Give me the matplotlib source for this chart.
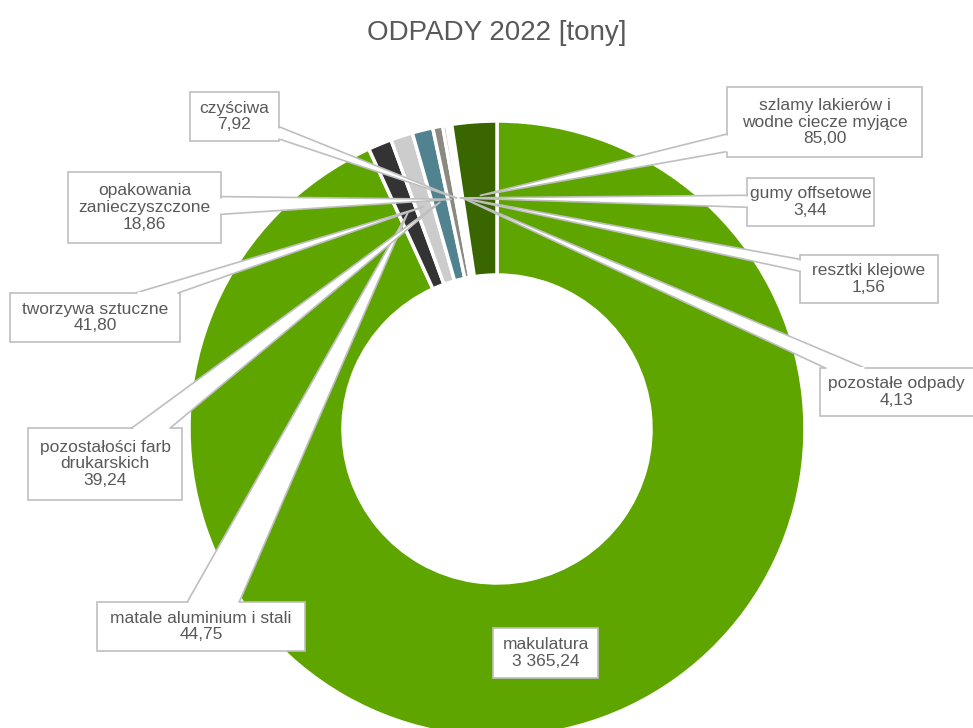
import numpy as np
import matplotlib.pyplot as plt
from matplotlib.patches import Rectangle, Polygon

plt.rcParams['font.family'] = ['Liberation Sans', 'DejaVu Sans']

# data (clockwise from 12 o'clock)
categories = [
    "makulatura",
    "matale aluminium i stali",
    "tworzywa sztuczne",
    "pozostałości farb\ndrukarskich",
    "opakowania\nzanieczyszczone",
    "czyściwa",
    "gumy offsetowe",
    "resztki klejowe",
    "pozostałe odpady",
    "szlamy lakierów i\nwodne ciecze myjące",
]
values = [3365.24, 44.75, 41.80, 39.24, 18.86, 7.92, 3.44, 1.56, 4.13, 85.00]
colors = ["#5fa500", "#333333", "#cccccc", "#50838f", "#8a8a80",
          "#c8a8a8", "#9a9a9a", "#dddddd", "#7f7f7f", "#3a6600"]

# label boxes in pixels (x0, y0, x1, y1), y measured from the top
boxes = [
    (493, 628, 598, 678),
    (97, 602, 305, 651),
    (10, 293, 180, 342),
    (28, 428, 182, 500),
    (68, 172, 221, 243),
    (190, 92, 279, 141),
    (747, 178, 874, 226),
    (800, 255, 938, 303),
    (820, 368, 978, 416),
    (727, 87, 922, 157),
]

W, H = 973, 728
CX, CY, R = 497, 429, 308
TEXT = "#595959"
LINE = "#bfbfbf"


def fmt_pl(v):
    return f"{v:,.2f}".replace(",", " ").replace(".", ",")


def callout_base(box, tip):
    x0, y0, x1, y1 = box
    c = np.array([(x0 + x1) / 2, (y0 + y1) / 2])
    d = np.asarray(tip) - c
    tx = ((x1 if d[0] > 0 else x0) - c[0]) / d[0] if d[0] != 0 else np.inf
    ty = ((y1 if d[1] > 0 else y0) - c[1]) / d[1] if d[1] != 0 else np.inf
    p = c + min(tx, ty) * d
    if tx < ty:
        # left / right side
        half = 0.125 * (y1 - y0)
        yc = np.clip(p[1], y0 + half + 2, y1 - half - 2)
        return np.array([p[0], yc - half]), np.array([p[0], yc + half])
    half = 0.125 * (x1 - x0)
    xc = np.clip(p[0], x0 + half + 2, x1 - half - 2)
    return np.array([xc - half, p[1]]), np.array([xc + half, p[1]])


fig = plt.figure(figsize=(W / 100, H / 100), dpi=100)
ax = fig.add_axes([0, 0, 1, 1])

# y axis points down here, so counterclock=True draws clockwise on screen
wedges, _ = ax.pie(values, colors=colors, startangle=-90, counterclock=True,
                   radius=R, center=(CX, CY),
                   wedgeprops=dict(width=R * 0.5, edgecolor="white", linewidth=2.5))
ax.set_xlim(0, W)
ax.set_ylim(H, 0)
ax.set_aspect("equal")
ax.axis("off")

r_tip = R * 0.76
for i, (name, val, box) in enumerate(zip(categories, values, boxes)):
    x0, y0, x1, y1 = box
    ax.add_patch(Rectangle((x0, y0), x1 - x0, y1 - y0, facecolor="white",
                           edgecolor=LINE, linewidth=1.2, zorder=3))
    if i > 0:
        w = wedges[i]
        ang = np.deg2rad((w.theta1 + w.theta2) / 2)
        tip = np.array([CX + r_tip * np.cos(ang), CY + r_tip * np.sin(ang)])
        b1, b2 = callout_base(box, tip)
        ax.add_patch(Polygon([tip, b1, b2], closed=True, facecolor="white",
                             edgecolor=LINE, linewidth=1.2, zorder=4))
        # open the box border where the callout joins it
        u = (b2 - b1) / np.linalg.norm(b2 - b1)
        ax.plot([b1[0] + u[0], b2[0] - u[0]], [b1[1] + u[1], b2[1] - u[1]],
                color="white", linewidth=2.2, zorder=5, solid_capstyle="butt")
    tx = 896 if x1 > W else (x0 + x1) / 2
    ax.text(tx, (y0 + y1) / 2, f"{name}\n{fmt_pl(val)}", ha="center",
            va="center", fontsize=12.5, color=TEXT, linespacing=1.15, zorder=6)

fig.text(497 / W, 1 - 33 / H, "ODPADY 2022 [tony]", ha="center", va="center",
         fontsize=20, color=TEXT)

fig.savefig("out.png", dpi=100)
